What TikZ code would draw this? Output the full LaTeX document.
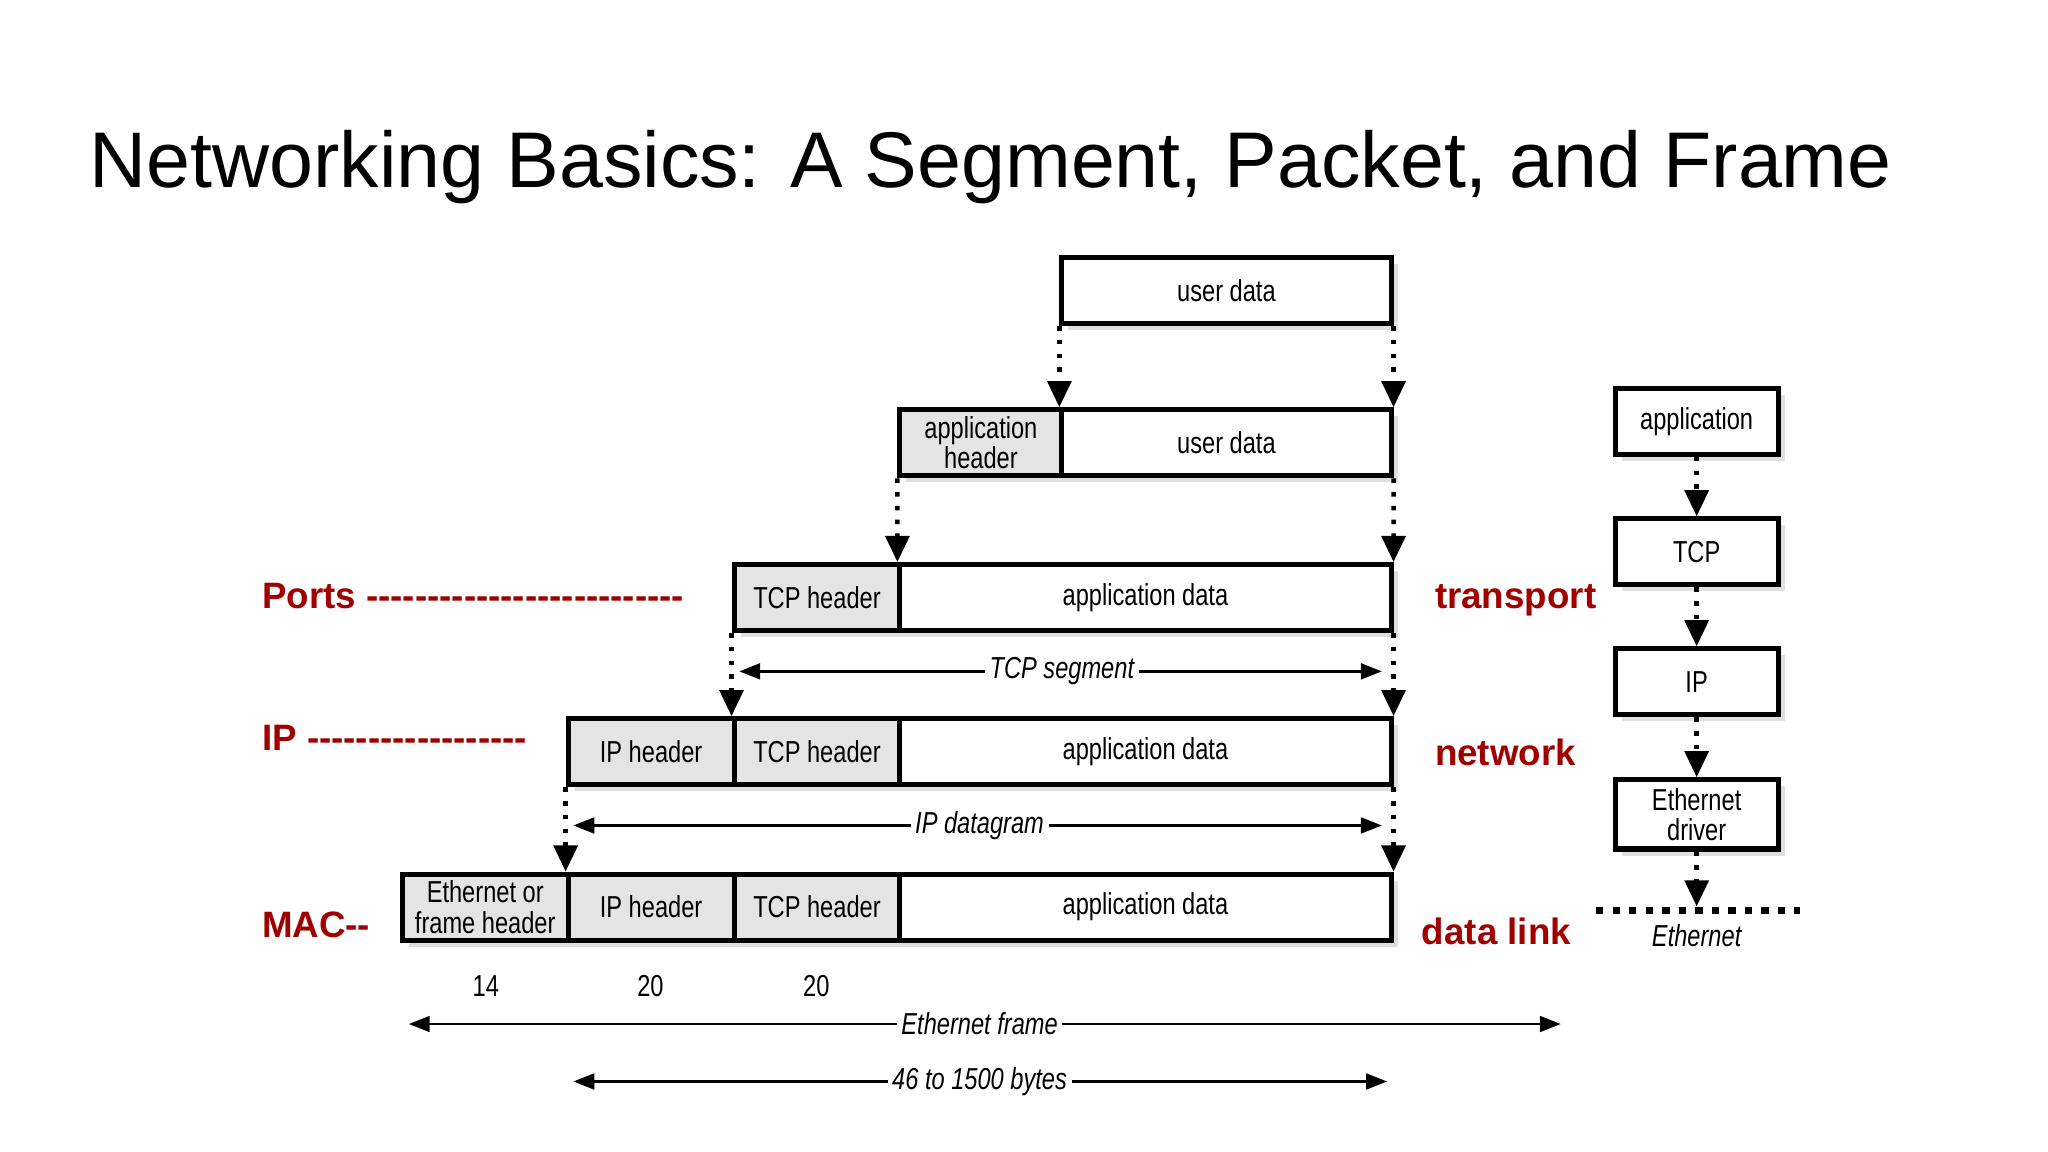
\documentclass[tikz,border=0pt]{standalone}
\usepackage{fontspec}
\setmainfont{Liberation Sans}
\newfontfamily\cond[FakeStretch=0.78]{Liberation Sans}
\newfontfamily\redf{Liberation Sans}
\usetikzlibrary{arrows.meta,shadows}
\definecolor{lred}{HTML}{A00000}
\definecolor{hdr}{HTML}{E4E4E4}
\tikzset{
 box/.style={draw=black,line width=1.1pt,fill=white,minimum height=5.05mm,inner sep=0pt,font=\cond\fontsize{6.6}{6.6}\selectfont,align=center,
   drop shadow={shadow xshift=0.5mm,shadow yshift=-0.5mm,opacity=0.25}},
 hbox/.style={box,fill=hdr},
 darr/.style={dotted,line width=1pt,-{Triangle[length=2mm,width=1.8mm]}},
 larr/.style={line width=0.6pt,{Triangle[length=1.6mm,width=1.2mm]}-{Triangle[length=1.6mm,width=1.2mm]}},
 lab/.style={fill=white,inner sep=1pt,font=\cond\itshape\fontsize{6.6}{7}\selectfont},
 red/.style={text=lred,font=\redf\bfseries\fontsize{8}{9}\selectfont,anchor=west,inner sep=0pt},
 num/.style={font=\cond\fontsize{6.6}{7}\selectfont}
}
\begin{document}
\begin{tikzpicture}[x=0.1mm,y=-0.1mm]
\useasboundingbox[fill=white] (0,0) rectangle (1568,882);
\node[anchor=west,inner sep=0pt,font=\fontsize{17.2}{20}\selectfont] (title) at (68,128) {Networking Basics: A Segment, Packet, and Frame};
% row 1
\node[box,minimum width=25.2mm] (ud1) at (939,222.5) {user data};
% row 2
\node[hbox,minimum width=12.4mm] (ah2) at (751,339) {application\\header};
\node[box,minimum width=25.2mm] (ud2) at (939,339) {user data};
% row 3
\node[hbox,minimum width=12.7mm] (tcp3) at (625.5,457.5) {TCP header};
\node[box,minimum width=37.6mm] (ad3) at (877,457.5) {application data};
% row 4
\node[hbox,minimum width=12.7mm] (ip4) at (498.5,575.5) {IP header};
\node[hbox,minimum width=12.7mm] (tcp4) at (625.5,575.5) {TCP header};
\node[box,minimum width=37.6mm] (ad4) at (877,575.5) {application data};
% row 5
\node[hbox,minimum width=12.7mm] (eth5) at (371.5,694.5) {Ethernet or\\frame header};
\node[hbox,minimum width=12.7mm] (ip5) at (498.5,694.5) {IP header};
\node[hbox,minimum width=12.7mm] (tcp5) at (625.5,694.5) {TCP header};
\node[box,minimum width=37.6mm] (ad5) at (877,694.5) {application data};
% dotted arrows
\draw[darr] (ud1.south west) -- (ud2.north west);
\draw[darr] (ud1.south east) -- (ud2.north east);
\draw[darr] (ah2.south west) -- (ad3.north west);
\draw[darr] (ud2.south east) -- (ad3.north east);
\draw[darr] (tcp3.south west) -- (tcp4.north west);
\draw[darr] (ad3.south east) -- (ad4.north east);
\draw[darr] (ip4.south west) -- (ip5.north west);
\draw[darr] (ad4.south east) -- (ad5.north east);
% span arrows
\coordinate (ts1) at (566,514); \coordinate (ts2) at (1058,514);
\draw[larr] (ts1) -- (ts2);
\node[lab] (tsl) at (813,514) {TCP segment};
\coordinate (id1) at (439,632); \coordinate (id2) at (1058,632);
\draw[larr] (id1) -- (id2);
\node[lab] (idl) at (750,632) {IP datagram};
\coordinate (ef1) at (313,784); \coordinate (ef2) at (1195,784);
\draw[larr] (ef1) -- (ef2);
\node[lab] (efl) at (750,784) {Ethernet frame};
\coordinate (by1) at (439,828); \coordinate (by2) at (1062,828);
\draw[larr] (by1) -- (by2);
\node[lab] (byl) at (750,828) {46 to 1500 bytes};
\node[num] (n14) at (372,755) {14};
\node[num] (n20a) at (498,755) {20};
\node[num] (n20b) at (625,755) {20};
% red labels
\node[red] (ports) at (200,456) {Ports --------------------------};
\node[red] (ipl) at (200,565) {IP ------------------};
\node[red] (mac) at (200,708) {MAC--};
\node[red] (tr) at (1098,460) {transport};
\node[red] (nw) at (1098,576) {network};
\node[red] (dl) at (1088,713) {data link};
% right stack
\node[box,minimum width=12.5mm] (sa) at (1299,322.5) {application};
\node[box,minimum width=12.5mm] (st) at (1299,422.5) {TCP};
\node[box,minimum width=12.5mm] (si) at (1299,522) {IP};
\node[box,minimum width=12.5mm,minimum height=5.3mm] (se) at (1299,623.5) {Ethernet\\driver};
\draw[darr] (sa) -- (st);
\draw[darr] (st) -- (si);
\draw[darr] (si) -- (se);
\coordinate (eb) at (1299,694);
\draw[darr] (se) -- (eb);
\coordinate (el1) at (1222,697); \coordinate (el2) at (1378,697);
\draw[dotted,line width=1.6pt] (el1) -- (el2);
\node[lab,fill=none] (ethl) at (1299,716) {Ethernet};
\end{tikzpicture}
\end{document}
